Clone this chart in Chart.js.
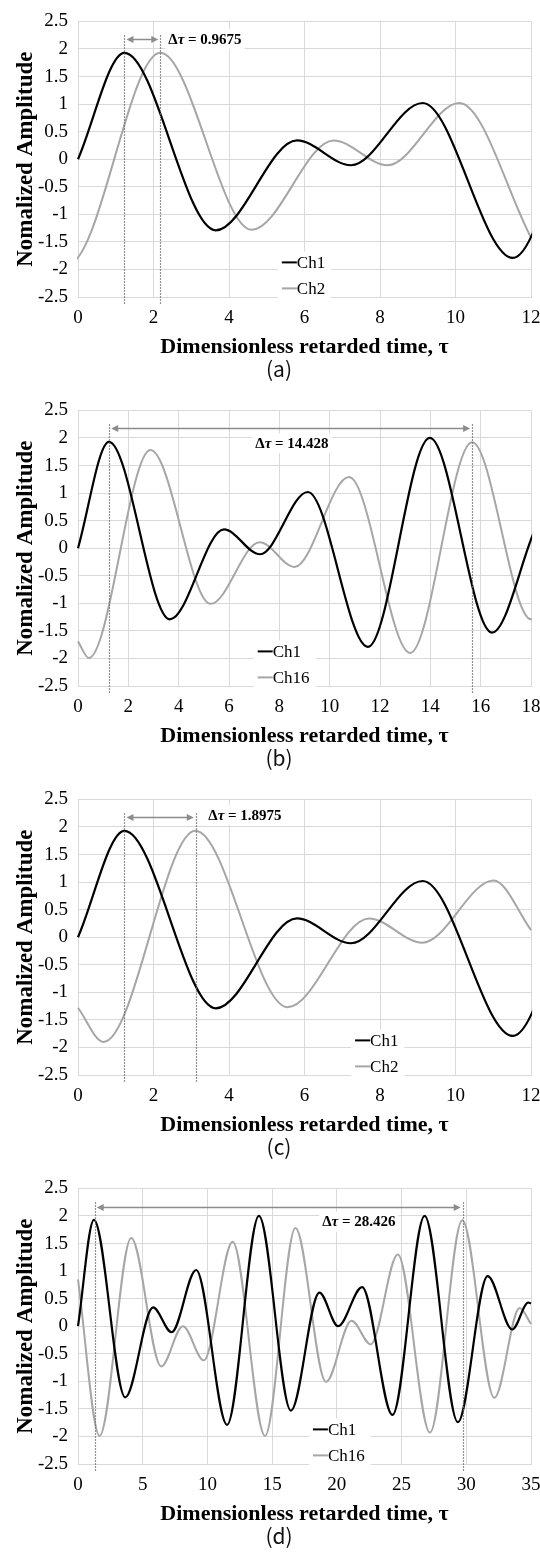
<!DOCTYPE html>
<html>
<head>
<meta charset="utf-8">
<script src="https://cdn.jsdelivr.net/npm/chart.js@4.4.1/dist/chart.umd.min.js"></script>
<style>
  body { margin: 0; width: 540px; height: 1553px; background: #fff; overflow: hidden; position: relative; }
  .panel { position: absolute; left: 0; width: 540px; height: 389px; }
  .panel canvas { display: block; }
  .cap { position: absolute; left: 279px; top: 368px; transform: translate(-50%, -50%);
         font-family: "Noto Sans CJK KR", "Noto Sans", sans-serif; font-size: 21px; color: #111; }
</style>
</head>
<body>
<div class="panel" style="top:0px"><canvas id="chartA" width="540" height="389"></canvas><div class="cap">(a)</div></div>
<div class="panel" style="top:389px"><canvas id="chartB" width="540" height="389"></canvas><div class="cap">(b)</div></div>
<div class="panel" style="top:778px"><canvas id="chartC" width="540" height="389"></canvas><div class="cap">(c)</div></div>
<div class="panel" style="top:1167px"><canvas id="chartD" width="540" height="389"></canvas><div class="cap">(d)</div></div>
<script>
// Tick labels
const yTickVals = [-2.5, -2, -1.5, -1, -0.5, 0, 0.5, 1, 1.5, 2, 2.5];
const xTicksA = [0, 2, 4, 6, 8, 10, 12];
const xTicksB = [0, 2, 4, 6, 8, 10, 12, 14, 16, 18];
const xTicksC = [0, 2, 4, 6, 8, 10, 12];
const xTicksD = [0, 5, 10, 15, 20, 25, 30, 35];

// Ch1 (same reference signal in every panel), read at peaks/troughs
const ch1Tau = [0, 1.23, 3.65, 5.8, 7.23, 9.13, 11.52, 13.98, 16.45, 18.65, 20.1, 21.95, 24.3, 26.78, 29.35, 31.65, 33.55, 34.8, 35];
const ch1Amp = [0, 1.93, -1.29, 0.34, -0.11, 1.02, -1.79, 2.0, -1.53, 0.61, 0.0, 0.71, -1.61, 2.0, -1.74, 0.91, -0.06, 0.43, 0.41];

// (a) Ch2 (first trough sits just left of tau = 0)
const ch2aTau = [-0.8, -0.25, 2.18, 4.6, 6.77, 8.2, 10.1, 12];
const ch2aAmp = [-1.75, -1.9, 1.93, -1.28, 0.34, -0.11, 1.02, -1.42];

// (b) Ch16 (last trough sits right at tau = 18)
const ch16bTau = [0, 0.43, 2.88, 5.27, 7.22, 8.6, 10.77, 13.2, 15.66, 18.0, 18.4];
const ch16bAmp = [-1.69, -1.99, 1.78, -1.01, 0.11, -0.34, 1.29, -1.9, 1.92, -1.29, -1.2];

// (c) Ch2
const ch2cTau = [0, 0.68, 3.11, 5.55, 7.71, 9.12, 11.01, 12];
const ch2cAmp = [-1.28, -1.9, 1.93, -1.27, 0.34, -0.1, 1.03, 0.13];

// (d) Ch16
const ch16dTau = [0, 1.67, 4.11, 6.43, 8.1, 9.72, 11.95, 14.45, 16.8, 19.16, 21.13, 22.62, 24.71, 27.2, 29.69, 32.17, 34.12, 35];
const ch16dAmp = [0.85, -1.99, 1.6, -0.73, 0.0, -0.62, 1.53, -1.99, 1.78, -1.01, 0.1, -0.33, 1.3, -1.93, 1.92, -1.3, 0.33, 0.04];

const BLACK = '#000000';
const GREY = '#a6a6a6';
const SERIF = '"Liberation Serif", "Times New Roman", serif';

// Dotted markers, delta arrow, label and legend box
const annotate = {
  id: 'annotate',
  afterDatasetsDraw(chart, args, opts) {
    const { ctx, chartArea, scales: { x, y } } = chart;
    ctx.save();

    // dotted verticals at the two peaks
    ctx.strokeStyle = '#6e6e6e';
    ctx.lineWidth = 1.2;
    ctx.setLineDash([1.5, 1.5]);
    opts.marks.forEach(t => {
      const px = Math.round(x.getPixelForValue(t)) + 0.5;
      ctx.beginPath();
      ctx.moveTo(px, y.getPixelForValue(2.25));
      ctx.lineTo(px, chartArea.bottom + 8);
      ctx.stroke();
    });
    ctx.setLineDash([]);

    // double arrow
    const x0 = x.getPixelForValue(opts.marks[0]) + 2;
    const x1 = x.getPixelForValue(opts.marks[1]) - 2;
    const ay = Math.round(y.getPixelForValue(opts.arrowY)) + 0.5;
    ctx.strokeStyle = '#8c8c8c';
    ctx.fillStyle = '#8c8c8c';
    ctx.lineWidth = 1.5;
    ctx.beginPath();
    ctx.moveTo(x0 + 5, ay);
    ctx.lineTo(x1 - 5, ay);
    ctx.stroke();
    ctx.beginPath();
    ctx.moveTo(x0, ay); ctx.lineTo(x0 + 7, ay - 3.5); ctx.lineTo(x0 + 7, ay + 3.5);
    ctx.closePath(); ctx.fill();
    ctx.beginPath();
    ctx.moveTo(x1, ay); ctx.lineTo(x1 - 7, ay - 3.5); ctx.lineTo(x1 - 7, ay + 3.5);
    ctx.closePath(); ctx.fill();

    // delta label: "Δτ = value" with italic tau
    const parts = [
      { t: 'Δ', f: 'bold 15px ' + SERIF },
      { t: 'τ', f: 'italic bold 15px ' + SERIF },
      { t: ' = ' + opts.label, f: 'bold 15px ' + SERIF }
    ];
    let tw = 0;
    parts.forEach(p => { ctx.font = p.f; p.w = ctx.measureText(p.t).width; tw += p.w; });
    let lx = x.getPixelForValue(opts.labelX);
    if (opts.labelAlign === 'center') lx -= tw / 2;
    const ly = y.getPixelForValue(opts.labelY);
    ctx.fillStyle = '#fff';
    ctx.fillRect(lx - 3, ly - 10, tw + 6, 20);
    ctx.fillStyle = '#000';
    ctx.textBaseline = 'middle';
    ctx.textAlign = 'left';
    parts.forEach(p => { ctx.font = p.f; ctx.fillText(p.t, lx, ly + 1); lx += p.w; });

    // legend
    const gx = x.getPixelForValue(opts.legendX);
    const rows = [chartArea.top + 241, chartArea.top + 267];
    ctx.font = '17px ' + SERIF;
    const names = chart.data.datasets.map(d => d.label);
    const nw = Math.max(...names.map(n => ctx.measureText(n).width));
    ctx.fillStyle = '#fff';
    ctx.fillRect(gx - 4, rows[0] - 11, 15 + nw + 10, rows[1] - rows[0] + 24);
    chart.data.datasets.forEach((ds, i) => {
      ctx.strokeStyle = ds.borderColor;
      ctx.lineWidth = 2;
      ctx.beginPath();
      ctx.moveTo(gx, rows[i]);
      ctx.lineTo(gx + 15, rows[i]);
      ctx.stroke();
      ctx.fillStyle = '#000';
      ctx.fillText(ds.label, gx + 15, rows[i] + 1);
    });
    ctx.restore();
  }
};

function series(name, tau, amp, color, width) {
  return {
    label: name,
    data: tau.map((t, i) => ({ x: t, y: amp[i] })),
    borderColor: color,
    borderWidth: width,
    pointRadius: 0,
    fill: false,
    cubicInterpolationMode: 'monotone',
    capBezierPoints: false
  };
}

function makeChart(id, xMax, xTicks, datasets, note) {
  return new Chart(document.getElementById(id), {
    type: 'line',
    data: { datasets: datasets },
    options: {
      responsive: false,
      animation: false,
      layout: { padding: { top: 14, right: 9, bottom: 28, left: 0 } },
      plugins: { legend: { display: false }, tooltip: { enabled: false }, annotate: note },
      scales: {
        x: {
          type: 'linear',
          bounds: 'data',
          afterDataLimits: s => { s.min = 0; s.max = xMax; },
          afterBuildTicks: s => { s.ticks = xTicks.map(v => ({ value: v })); },
          afterFit: s => { s.height = 64; s.paddingLeft = 0; s.paddingRight = 0; },
          grid: { color: '#d9d9d9', drawTicks: false },
          border: { color: '#d9d9d9' },
          ticks: { padding: 10, color: '#000', font: { family: SERIF, size: 19 } },
          title: {
            display: true, text: 'Dimensionless retarded time, τ', color: '#000', padding: 0,
            font: { family: SERIF, size: 22, weight: 'bold' }
          }
        },
        y: {
          min: -2.5,
          max: 2.5,
          afterBuildTicks: s => { s.ticks = yTickVals.map(v => ({ value: v })); },
          afterFit: s => { s.width = 78; },
          grid: { color: '#d9d9d9', drawTicks: false },
          border: { color: '#d9d9d9' },
          ticks: {
            padding: 10, color: '#000', font: { family: SERIF, size: 19 },
            callback: v => String(Number(v.toFixed(1)))
          },
          title: {
            display: true, text: 'Nomalized Amplitude', color: '#000', padding: { top: 12, bottom: 0 },
            font: { family: SERIF, size: 23, weight: 'bold' }
          }
        }
      }
    },
    plugins: [annotate]
  });
}

makeChart('chartA', 12, xTicksA,
  [series('Ch1', ch1Tau, ch1Amp, BLACK, 2.2), series('Ch2', ch2aTau, ch2aAmp, GREY, 2)],
  { marks: [1.23, 2.18], arrowY: 2.18, label: '0.9675', labelX: 2.39, labelY: 2.18, labelAlign: 'left', legendX: 5.4 });

makeChart('chartB', 18, xTicksB,
  [series('Ch1', ch1Tau, ch1Amp, BLACK, 2.2), series('Ch16', ch16bTau, ch16bAmp, GREY, 2)],
  { marks: [1.24, 15.66], arrowY: 2.18, label: '14.428', labelX: 8.5, labelY: 1.9, labelAlign: 'center', legendX: 7.14 });

makeChart('chartC', 12, xTicksC,
  [series('Ch1', ch1Tau, ch1Amp, BLACK, 2.2), series('Ch2', ch2cTau, ch2cAmp, GREY, 2)],
  { marks: [1.23, 3.12], arrowY: 2.18, label: '1.8975', labelX: 3.45, labelY: 2.22, labelAlign: 'left', legendX: 7.34 });

makeChart('chartD', 35, xTicksD,
  [series('Ch1', ch1Tau, ch1Amp, BLACK, 2.2), series('Ch16', ch16dTau, ch16dAmp, GREY, 2)],
  { marks: [1.29, 29.72], arrowY: 2.17, label: '28.426', labelX: 21.7, labelY: 1.9, labelAlign: 'center', legendX: 18.15 });
</script>
</body>
</html>
